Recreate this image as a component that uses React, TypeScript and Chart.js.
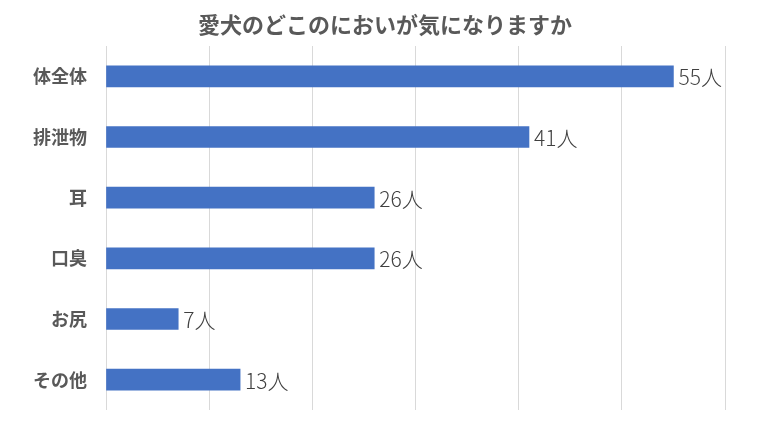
import React, { useEffect, useRef } from "react";
import { Chart, registerables } from "chart.js";

Chart.register(...registerables);

const TITLE = "愛犬のどこのにおいが気になりますか";
const categories = ["体全体", "排泄物", "耳", "口臭", "お尻", "その他"];
const values = [55, 41, 26, 26, 7, 13];
const unit = "人";
const xMax = 60;
const xStep = 10;

const FONT = "'Noto Sans CJK JP', 'Noto Sans', sans-serif";

const labelPlugin = {
  id: "barLabels",
  afterDatasetsDraw(chart: any) {
    const ctx = chart.ctx;
    const meta = chart.getDatasetMeta(0);
    ctx.save();
    ctx.font = `300 21px ${FONT}`;
    ctx.fillStyle = "#404040";
    ctx.textAlign = "left";
    ctx.textBaseline = "middle";
    meta.data.forEach((bar: any, i: number) => {
      ctx.fillText(`${values[i]}${unit}`, bar.x + 5, bar.y + 1);
    });
    ctx.restore();
  },
};

const titlePlugin = {
  id: "centerTitle",
  afterDraw(chart: any) {
    const ctx = chart.ctx;
    ctx.save();
    ctx.font = `bold 22px ${FONT}`;
    ctx.fillStyle = "#595959";
    ctx.textAlign = "center";
    ctx.textBaseline = "middle";
    ctx.fillText(TITLE, chart.width / 2, 25);
    ctx.restore();
  },
};

export default function App() {
  const ref = useRef<HTMLCanvasElement | null>(null);
  useEffect(() => {
    document.body.style.margin = "0";
    const chart = new Chart(ref.current as HTMLCanvasElement, {
      type: "bar",
      data: {
        labels: categories,
        datasets: [
          {
            data: values,
            backgroundColor: "#4472C4",
            borderWidth: 0,
            barThickness: 21,
          },
        ],
      },
      options: {
        indexAxis: "y",
        animation: false,
        responsive: false,
        maintainAspectRatio: false,
        layout: { padding: { left: 0, right: 45, bottom: 23, top: 46 } },
        plugins: {
          legend: { display: false },
          tooltip: { enabled: false },
          title: { display: false },
        },
        scales: {
          x: {
            min: 0,
            max: xMax,
            ticks: { display: false, stepSize: xStep },
            grid: { color: "#d9d9d9", drawTicks: false, lineWidth: 1 },
            border: { display: false },
            afterFit(scale: any) {
              scale.height = 0;
              scale.paddingLeft = 0;
              scale.paddingRight = 0;
            },
          },
          y: {
            grid: { display: false, drawTicks: false },
            border: { display: false },
            ticks: {
              color: "#595959",
              padding: 19,
              font: { family: FONT, size: 18, weight: "bold" },
            },
            afterFit(scale: any) {
              scale.width = 106;
              scale.paddingTop = 0;
              scale.paddingBottom = 0;
            },
          },
        },
      },
      plugins: [labelPlugin, titlePlugin],
    } as any);
    return () => chart.destroy();
  }, []);
  return (
    <div style={{ width: 770, height: 433 }}>
      <canvas ref={ref} width={770} height={433} style={{ display: "block" }} />
    </div>
  );
}
